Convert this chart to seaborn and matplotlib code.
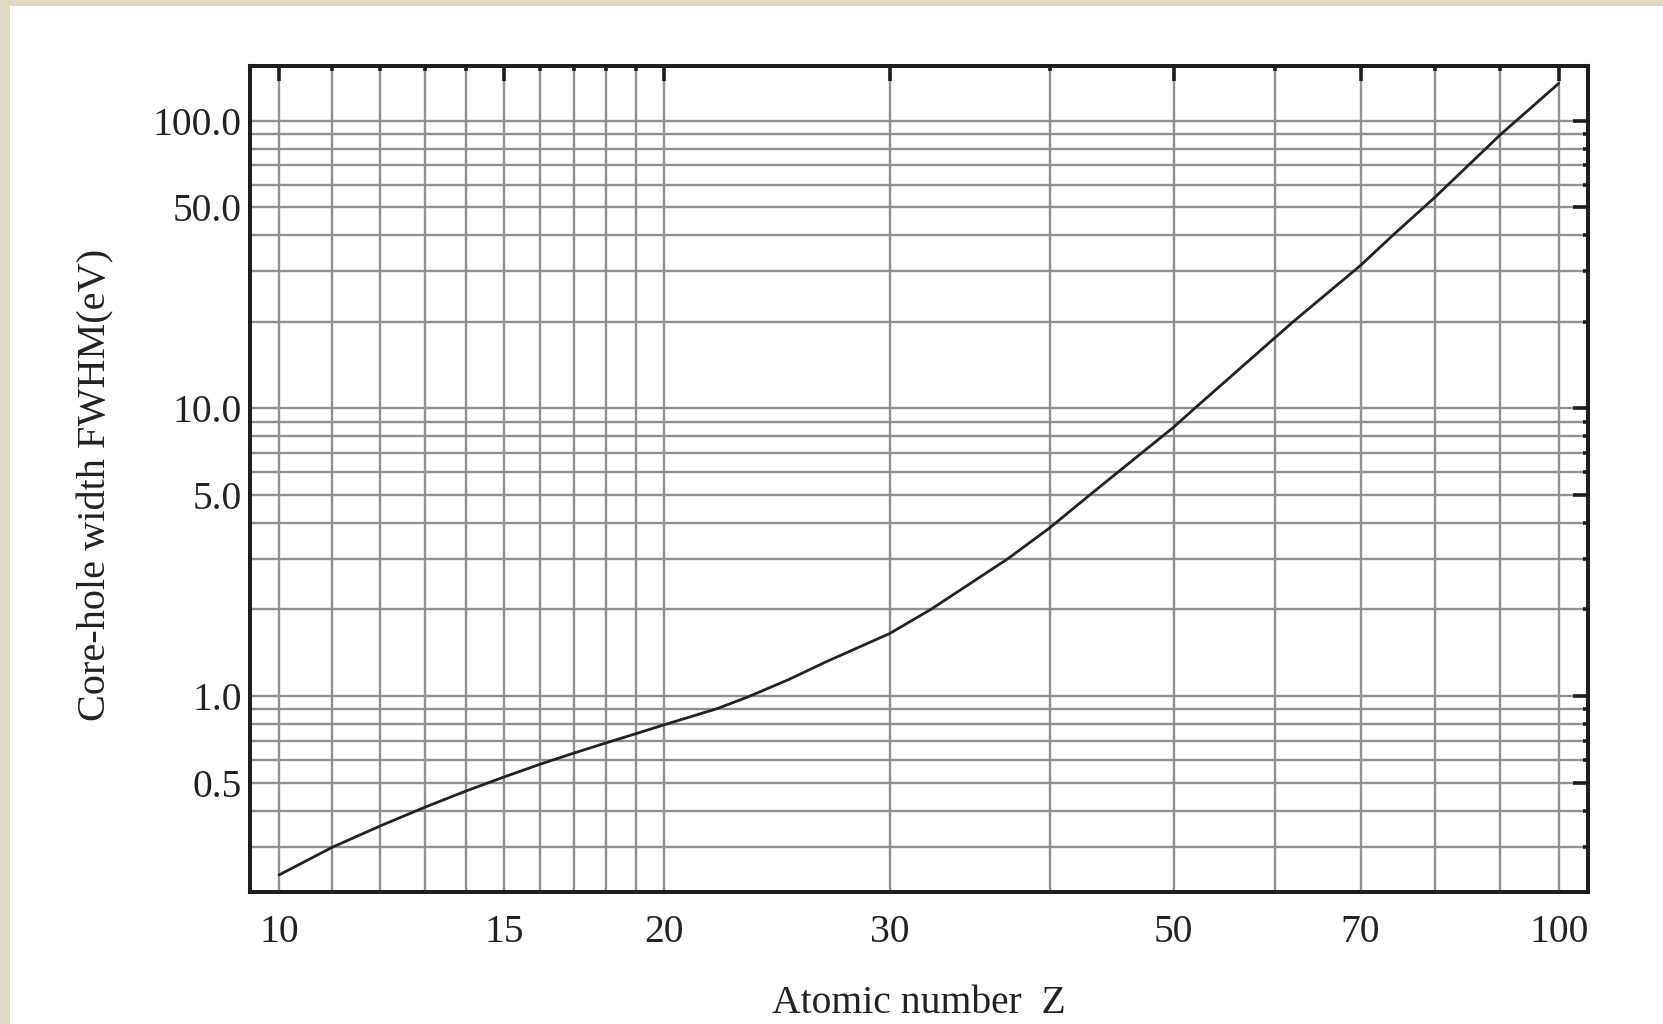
import numpy as np
import pandas as pd
import matplotlib
matplotlib.use("Agg")
import matplotlib.pyplot as plt
import seaborn as sns
from matplotlib.ticker import FixedLocator, FixedFormatter, NullFormatter
from matplotlib.patches import Rectangle

# ---------------- data ----------------
atomic_number = [10, 11, 12, 13, 14, 15, 16, 17, 18, 19, 20, 22, 23.2, 25, 26.8,
                 30, 32.3, 37.1, 40, 43, 45.4, 47.1, 50, 51.8, 60, 62, 70, 74.2,
                 80, 90, 100]
fwhm_ev = [0.239, 0.298, 0.354, 0.411, 0.468, 0.524, 0.58, 0.634, 0.687, 0.74,
           0.795, 0.905, 0.99, 1.14, 1.32, 1.65, 2.0, 3.0, 3.84, 5.0, 6.08, 6.94,
           8.6, 9.9, 17.6, 20.0, 31.4, 40.0, 54.1, 89.3, 134.8]

x_major_ticks = [10, 15, 20, 30, 50, 70, 100]
x_major_labels = ["10", "15", "20", "30", "50", "70", "100"]
x_minor_ticks = [11, 12, 13, 14, 16, 17, 18, 19, 40, 60, 80, 90]

y_major_ticks = [0.5, 1, 5, 10, 50, 100]
y_major_labels = ["0.5", "1.0", "5.0", "10.0", "50.0", "100.0"]
y_minor_ticks = [0.3, 0.4, 0.6, 0.7, 0.8, 0.9, 2, 3, 4, 6, 7, 8, 9,
                 20, 30, 40, 60, 70, 80, 90]

x_label = "Atomic number  Z"
y_label = "Core-hole width FWHM(eV)"

# ---------------- style ----------------
sns.set_style("white")
plt.rcParams["font.family"] = ["Liberation Serif", "DejaVu Serif"]

BEIGE = "#E0DAC4"
INK = "#1e1e1e"
GRID = "#909090"
TEXT = "#222222"

W_PX, H_PX = 1663, 1024
fig = plt.figure(figsize=(W_PX / 100, H_PX / 100), dpi=100)
fig.patch.set_facecolor("white")
fig.add_artist(Rectangle((0, 1 - 6 / H_PX), 1, 6 / H_PX, transform=fig.transFigure,
                         color=BEIGE, lw=0, zorder=0))
fig.add_artist(Rectangle((0, 0), 10 / W_PX, 1, transform=fig.transFigure,
                         color=BEIGE, lw=0, zorder=0))

left, right, top, bottom = 250, 1588, 66, 892
ax = fig.add_axes([left / W_PX, 1 - bottom / H_PX, (right - left) / W_PX,
                   (bottom - top) / H_PX])

df = pd.DataFrame({"Z": atomic_number, "FWHM": fwhm_ev})
sns.lineplot(data=df, x="Z", y="FWHM", ax=ax, color="#222222", linewidth=2.0,
             estimator=None)

ax.set_xscale("log")
ax.set_yscale("log")
ax.set_xlim(9.49, 105.4)
ax.set_ylim(0.2085, 154.9)

ax.xaxis.set_major_locator(FixedLocator(x_major_ticks))
ax.xaxis.set_major_formatter(FixedFormatter(x_major_labels))
ax.xaxis.set_minor_locator(FixedLocator(x_minor_ticks))
ax.xaxis.set_minor_formatter(NullFormatter())
ax.yaxis.set_major_locator(FixedLocator(y_major_ticks))
ax.yaxis.set_major_formatter(FixedFormatter(y_major_labels))
ax.yaxis.set_minor_locator(FixedLocator(y_minor_ticks))
ax.yaxis.set_minor_formatter(NullFormatter())

ax.grid(True, which="both", color=GRID, linewidth=1.7)
ax.set_axisbelow(True)
ax.tick_params(which="both", direction="in", top=True, right=True,
               color=INK, width=2.6, labelcolor=TEXT, labelsize=28.5)
ax.tick_params(which="major", length=11)
ax.tick_params(which="minor", length=3.5)
ax.tick_params(axis="x", which="major", pad=16)
ax.tick_params(axis="y", which="major", pad=6)

for s in ax.spines.values():
    s.set_linewidth(2.9)
    s.set_color(INK)
    s.set_visible(True)

ax.set_xlabel(x_label, fontsize=28.5, color=TEXT, va="center", ha="center")
ax.xaxis.set_label_coords(0.5, -0.1345)
ax.set_ylabel(y_label, fontsize=29, color=TEXT, va="center", ha="center")
ax.yaxis.set_label_coords(-0.115, 0.4927)

fig.savefig("out.png", dpi=100, facecolor=fig.get_facecolor())
